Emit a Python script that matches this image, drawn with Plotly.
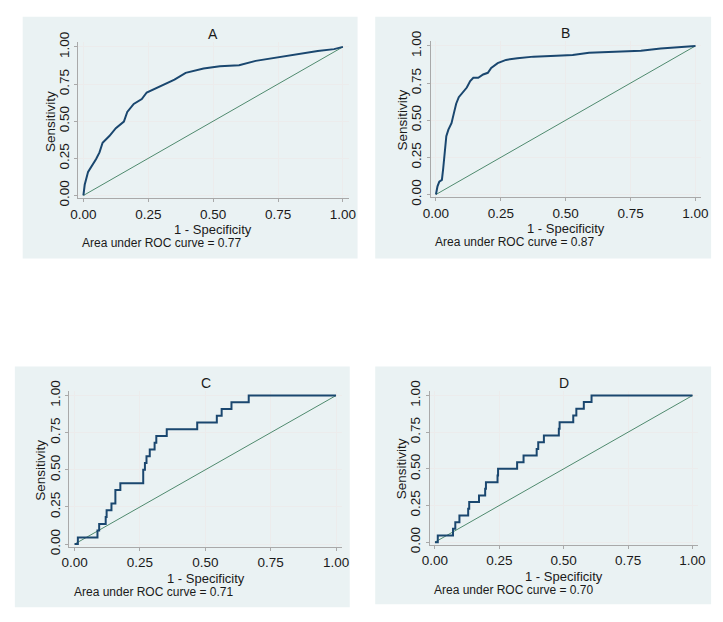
import plotly.graph_objects as go

# ---------------- data ----------------
panel_titles = ["A", "B", "C", "D"]
auc_labels = ["0.77", "0.87", "0.71", "0.70"]
tick_vals = [0, 0.25, 0.5, 0.75, 1.0]
tick_text = ["0.00", "0.25", "0.50", "0.75", "1.00"]

A_fpr = [0, 0.005, 0.018, 0.03, 0.049, 0.062, 0.074, 0.1, 0.125, 0.156, 0.169, 0.194, 0.225,
         0.244, 0.282, 0.313, 0.351, 0.394, 0.463, 0.526, 0.60, 0.664, 0.74, 0.815, 0.903, 0.966, 1.0]
A_tpr = [0, 0.072, 0.159, 0.19, 0.246, 0.29, 0.355, 0.4, 0.453, 0.497, 0.562, 0.616, 0.649,
         0.693, 0.725, 0.747, 0.78, 0.825, 0.854, 0.869, 0.876, 0.906, 0.928, 0.95, 0.972, 0.985, 1.0]

B_fpr = [0, 0.006, 0.013, 0.023, 0.028, 0.035, 0.04, 0.048, 0.06, 0.069, 0.078, 0.088, 0.107, 0.119,
         0.132, 0.144, 0.163, 0.182, 0.2, 0.213, 0.238, 0.27, 0.314, 0.376, 0.464, 0.527, 0.59, 0.715,
         0.79, 0.866, 0.966, 1.0]
B_tpr = [0, 0.055, 0.087, 0.098, 0.175, 0.284, 0.393, 0.437, 0.48, 0.546, 0.611, 0.655, 0.699, 0.72,
         0.764, 0.786, 0.786, 0.808, 0.819, 0.852, 0.884, 0.906, 0.917, 0.928, 0.934, 0.939, 0.954, 0.961,
         0.967, 0.983, 0.993, 1.0]

C_fpr = [0, 0.0125, 0.0875, 0.094, 0.119, 0.1225, 0.141, 0.156, 0.175, 0.2625, 0.269, 0.275, 0.2875,
         0.306, 0.3125, 0.3525, 0.469, 0.544, 0.5625, 0.6, 0.666, 1.0]
C_tpr = [0, 0.045, 0.091, 0.136, 0.182, 0.227, 0.273, 0.364, 0.409, 0.5, 0.545, 0.591, 0.636,
         0.682, 0.727, 0.773, 0.818, 0.864, 0.909, 0.955, 1.0, 1.0]

D_fpr = [0, 0.011, 0.07, 0.079, 0.095, 0.129, 0.133, 0.171, 0.195, 0.198, 0.243, 0.245, 0.319, 0.344,
         0.395, 0.401, 0.423, 0.481, 0.484, 0.537, 0.549, 0.578, 0.608, 1.0]
D_tpr = [0, 0.045, 0.091, 0.136, 0.182, 0.227, 0.273, 0.318, 0.364, 0.409, 0.455, 0.5, 0.545, 0.591,
         0.636, 0.682, 0.727, 0.773, 0.818, 0.864, 0.909, 0.955, 1.0, 1.0]

curves = [(A_fpr, A_tpr, "linear"), (B_fpr, B_tpr, "linear"),
          (C_fpr, C_tpr, "hv"), (D_fpr, D_tpr, "hv")]

# ---------------- layout geometry (pixels) ----------------
W, H = 723, 622
geo = [
    dict(x0=77, x1=342, y0=191, y1=38),
    dict(x0=437, x1=702, y0=190, y1=37),
    dict(x0=68, x1=335, y0=550, y1=397),
    dict(x0=436, x1=699, y0=548, y1=397),
]
bg_boxes = [(15, 7, 357, 256), (375, 7, 718, 256), (7, 367, 349, 615), (375, 367, 718, 612)]
XR = (-0.02, 1.022)
YR = (-0.02, 1.033)

NAVY = "#1a476f"
GREEN = "#4f8a6e"
BG = "#eaf2f3"
TXT = "#1a1a1a"
FONT = "Liberation Sans, Arial, sans-serif"

def fx(px):
    return px / W

def fy(py):
    return 1 - py / H

fig = go.Figure()
annotations = []
shapes = []

for i, g in enumerate(geo):
    k = "" if i == 0 else str(i + 1)
    w = g["x1"] - g["x0"]
    h = g["y0"] - g["y1"]
    left = g["x0"] + XR[0] * w
    right = g["x0"] + XR[1] * w
    bottom = g["y0"] - YR[0] * h
    top = g["y0"] - YR[1] * h

    axstyle = dict(
        tickvals=tick_vals, ticktext=tick_text, showgrid=True,
        gridcolor="#ececec", gridwidth=1, zeroline=False, showline=True,
        linecolor="#a9a9a9", linewidth=1, ticks="outside", ticklen=3,
        tickcolor="#a9a9a9", tickfont=dict(size=13.5, color=TXT, family=FONT),
        fixedrange=True,
    )
    xa = dict(axstyle, range=list(XR), domain=[fx(left), fx(right)],
              anchor="y" + k)
    ya = dict(axstyle, range=list(YR), domain=[fy(bottom), fy(top)],
              anchor="x" + k, tickangle=-90)
    fig.update_layout(**{"xaxis" + k: xa, "yaxis" + k: ya})

    fpr, tpr, shape = curves[i]
    fig.add_trace(go.Scatter(x=[0, 1], y=[0, 1], mode="lines",
                             line=dict(color=GREEN, width=1),
                             xaxis="x" + k, yaxis="y" + k, showlegend=False,
                             hoverinfo="skip"))
    fig.add_trace(go.Scatter(x=fpr, y=tpr, mode="lines",
                             line=dict(color=NAVY, width=2, shape=shape),
                             xaxis="x" + k, yaxis="y" + k, showlegend=False))

    bx0, by0, bx1, by1 = bg_boxes[i]
    shapes.append(dict(type="rect", xref="paper", yref="paper",
                       x0=fx(bx0), x1=fx(bx1), y0=fy(by1), y1=fy(by0),
                       fillcolor=BG, line=dict(width=0), layer="below"))

    cx = (left + right) / 2
    annotations.append(dict(text=panel_titles[i], xref="paper", yref="paper",
                            x=fx(cx), y=fy(g["y1"] - 13), xanchor="center",
                            yanchor="middle", showarrow=False,
                            font=dict(size=14, color=TXT, family=FONT)))
    annotations.append(dict(text="1 - Specificity", xref="paper", yref="paper",
                            x=fx(cx), y=fy(g["y0"] + 35), xanchor="center",
                            yanchor="middle", showarrow=False,
                            font=dict(size=13, color=TXT, family=FONT)))
    annotations.append(dict(text="Sensitivity", xref="paper", yref="paper",
                            x=fx(left - 29), y=fy((g["y0"] + g["y1"]) / 2),
                            xanchor="center", yanchor="middle", textangle=-90,
                            showarrow=False,
                            font=dict(size=13.5, color=TXT, family=FONT)))
    annotations.append(dict(text="Area under ROC curve = " + auc_labels[i],
                            xref="paper", yref="paper",
                            x=fx(g["x0"] - 3), y=fy(g["y0"] + 49),
                            xanchor="left", yanchor="middle", showarrow=False,
                            font=dict(size=12, color=TXT, family=FONT)))

fig.update_layout(
    width=W, height=H, margin=dict(l=0, r=0, t=0, b=0),
    paper_bgcolor="white", plot_bgcolor="white",
    shapes=shapes, annotations=annotations,
    font=dict(family=FONT, color=TXT),
)

fig.write_html(
    "out.html",
    config={"displayModeBar": False},
    post_script="document.body.style.margin='0';document.body.style.padding='0';"
                "document.body.style.overflow='hidden';",
)
